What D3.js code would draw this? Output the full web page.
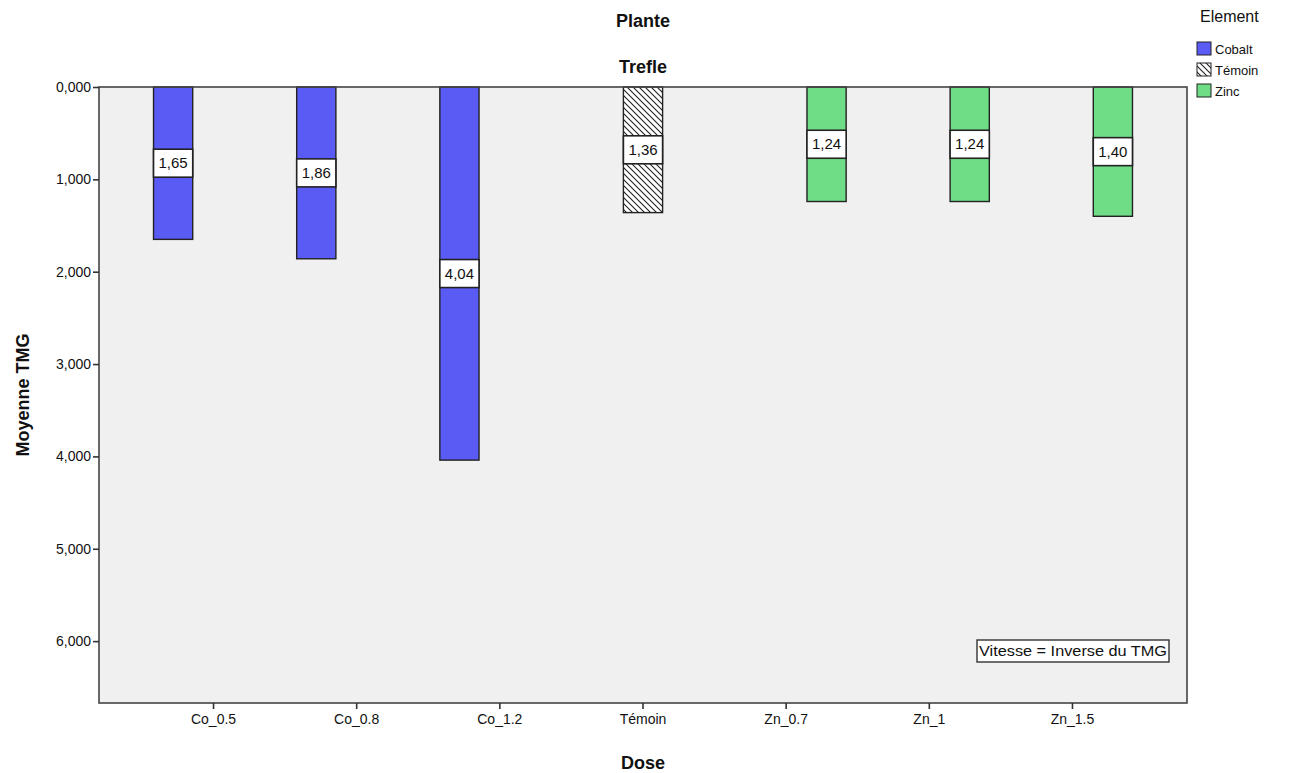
<!DOCTYPE html>
<html>
<head>
<meta charset="utf-8">
<script src="https://cdn.jsdelivr.net/npm/d3@7/dist/d3.min.js"></script>
<style>
  body { margin: 0; background: #fff; }
  text { font-family: Arial, "Liberation Sans", sans-serif; fill: #111; }
</style>
</head>
<body>
<div id="chart"></div>
<script>
const doses = ["Co_0.5", "Co_0.8", "Co_1.2", "Témoin", "Zn_0.7", "Zn_1", "Zn_1.5"];
const elements = ["Cobalt", "Témoin", "Zinc"];
const doseElement = ["Cobalt", "Cobalt", "Cobalt", "Témoin", "Zinc", "Zinc", "Zinc"];
const meanTMG = [1.65, 1.86, 4.04, 1.36, 1.24, 1.24, 1.40];
const yTicks = [0, 1, 2, 3, 4, 5, 6];

const width = 1289, height = 773;
const margin = { left: 99, top: 87, right: 102, bottom: 70 };
const plotW = width - margin.left - margin.right;
const plotH = height - margin.top - margin.bottom;
const FONT = "Arial, 'Liberation Sans', sans-serif";

const svg = d3.select("#chart").append("svg")
    .attr("width", width)
    .attr("height", height);

const defs = svg.append("defs");
const pat = defs.append("pattern")
    .attr("id", "hatch")
    .attr("patternUnits", "userSpaceOnUse")
    .attr("width", 6).attr("height", 6);
pat.append("rect").attr("width", 6).attr("height", 6).attr("fill", "#fff");
pat.append("path")
    .attr("d", "M-1,-1 L7,7 M-1,5 L1,7 M5,-1 L7,1")
    .attr("stroke", "#222").attr("stroke-width", 1.1);

const fillOf = { "Cobalt": "#5a5af4", "Témoin": "url(#hatch)", "Zinc": "#6fdc86" };

const x = d3.scaleBand()
    .domain(doses)
    .range([margin.left, margin.left + plotW])
    .paddingInner(0)
    .paddingOuter(0.3);

const xSub = d3.scaleBand()
    .domain(elements)
    .range([x.bandwidth() / 2 - 60, x.bandwidth() / 2 + 60])
    .paddingInner(0.03);

const y = d3.scaleLinear()
    .domain([0, 6.67])
    .range([margin.top, margin.top + plotH]);

const fmt = v => d3.format(".3f")(v).replace(".", ",");
const fmt2 = v => d3.format(".2f")(v).replace(".", ",");

// fond de la zone de tracé
svg.append("rect")
    .attr("x", margin.left).attr("y", margin.top)
    .attr("width", plotW).attr("height", plotH)
    .attr("fill", "#f0f0f0");

// barres + étiquettes
const bars = svg.append("g");
doses.forEach((d, i) => {
    const el = doseElement[i];
    const bx = x(d) + xSub(el);
    const bw = xSub.bandwidth();
    bars.append("rect")
        .attr("x", bx).attr("y", y(0))
        .attr("width", bw).attr("height", y(meanTMG[i]) - y(0))
        .attr("fill", fillOf[el])
        .attr("stroke", "#222").attr("stroke-width", 1.4);
    const cy = y(meanTMG[i] / 2);
    bars.append("rect")
        .attr("x", bx).attr("y", cy - 14)
        .attr("width", bw).attr("height", 28)
        .attr("fill", "#fff")
        .attr("stroke", "#222").attr("stroke-width", 1.6);
    bars.append("text")
        .attr("x", bx + bw / 2).attr("y", cy + 5)
        .attr("text-anchor", "middle")
        .attr("font-size", 15)
        .text(fmt2(meanTMG[i]));
});

// cadre
svg.append("rect")
    .attr("x", margin.left).attr("y", margin.top)
    .attr("width", plotW).attr("height", plotH)
    .attr("fill", "none")
    .attr("stroke", "#444").attr("stroke-width", 1.6);

// axes
const yAxis = svg.append("g")
    .attr("transform", `translate(${margin.left},0)`)
    .call(d3.axisLeft(y).tickValues(yTicks).tickFormat(fmt).tickSize(6).tickPadding(2));
yAxis.select(".domain").remove();
yAxis.selectAll("line").attr("stroke", "#333").attr("stroke-width", 1.6);
yAxis.selectAll("text").attr("font-size", 14).attr("font-family", FONT).attr("fill", "#222");

const xAxis = svg.append("g")
    .attr("transform", `translate(0,${margin.top + plotH})`)
    .call(d3.axisBottom(x).tickSize(6).tickPadding(5));
xAxis.select(".domain").remove();
xAxis.selectAll("line").attr("stroke", "#333").attr("stroke-width", 1.6);
xAxis.selectAll("text").attr("font-size", 14).attr("font-family", FONT).attr("fill", "#222");

// titres
const cx = margin.left + plotW / 2;
svg.append("text").attr("x", cx).attr("y", 27)
    .attr("text-anchor", "middle").attr("font-size", 18).attr("font-weight", "bold")
    .text("Plante");
svg.append("text").attr("x", cx).attr("y", 73)
    .attr("text-anchor", "middle").attr("font-size", 18).attr("font-weight", "bold")
    .text("Trefle");
svg.append("text").attr("x", cx).attr("y", 769)
    .attr("text-anchor", "middle").attr("font-size", 18).attr("font-weight", "bold")
    .text("Dose");
svg.append("text")
    .attr("transform", `translate(29,${margin.top + plotH / 2}) rotate(-90)`)
    .attr("text-anchor", "middle").attr("font-size", 18).attr("font-weight", "bold")
    .text("Moyenne TMG");

// annotation
const note = svg.append("g");
note.append("rect")
    .attr("x", 977).attr("y", 640).attr("width", 192).attr("height", 22)
    .attr("fill", "#fff").attr("stroke", "#333").attr("stroke-width", 1.4);
note.append("text")
    .attr("x", 1073).attr("y", 656)
    .attr("text-anchor", "middle").attr("font-size", 14)
    .attr("textLength", 188).attr("lengthAdjust", "spacingAndGlyphs")
    .text("Vitesse = Inverse du TMG");

// légende
const legend = svg.append("g").attr("transform", "translate(1197,0)");
legend.append("text").attr("x", 3).attr("y", 22).attr("font-size", 16).attr("fill", "#222").text("Element");
elements.forEach((el, i) => {
    const ly = 42 + i * 21;
    legend.append("rect")
        .attr("x", 0).attr("y", ly).attr("width", 14).attr("height", 13)
        .attr("fill", fillOf[el]).attr("stroke", "#222").attr("stroke-width", 1);
    legend.append("text")
        .attr("x", 18).attr("y", ly + 12).attr("font-size", 13)
        .text(el);
});
</script>
</body>
</html>
